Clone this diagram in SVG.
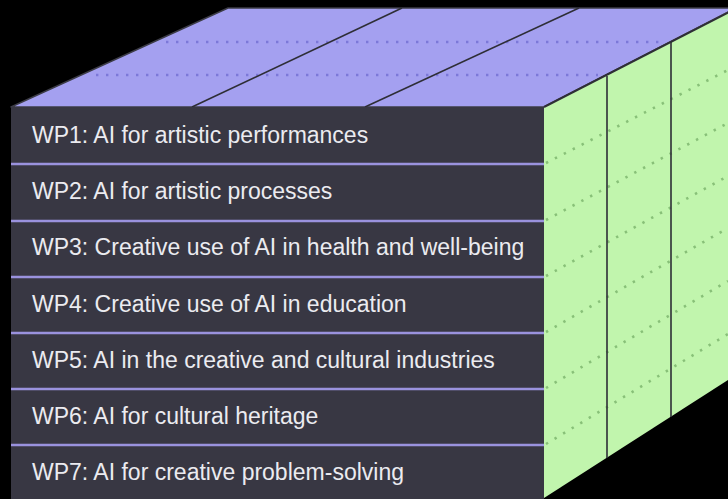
<svg xmlns="http://www.w3.org/2000/svg" width="728" height="499" viewBox="0 0 728 499">
<defs>
<style>
.bg{fill:#000}
.top{fill:#a4a0f0;stroke:#3c3c46;stroke-width:1.5;stroke-linejoin:round}
.side{fill:#c1f5ad}
.front{fill:#383743}
.edge{stroke:#2e2e36;stroke-width:2;fill:none}
.thin{stroke:#2e2e36;stroke-width:1.6;fill:none}
.tdot{stroke:#7c78d8;stroke-width:2.6;stroke-dasharray:2.4 7.6;fill:none}
.gdot{stroke:#88c078;stroke-width:2.6;stroke-dasharray:2.4 7.6;fill:none}
.sep{stroke:#9a92de;stroke-width:2.6}
.lbl{font-family:"Liberation Sans",Arial,sans-serif;font-size:23px;fill:#ebebf0}
</style>
</defs>
<rect class="bg" x="0" y="0" width="728" height="499"/>

<g id="top-face">
<polygon class="top" points="11,107 228,8 730,8 730,11 544,107"/>
<line class="tdot" x1="166" y1="42" x2="664" y2="42"/>
<line class="tdot" x1="96" y1="75" x2="598" y2="75"/>
<line class="thin" x1="192" y1="107" x2="402" y2="8"/>
<line class="thin" x1="365" y1="107" x2="579" y2="8"/>
</g>

<g id="right-face">
<polygon class="side" points="544,107 728,12 728,380 544,498"/>
<line class="gdot" x1="546" y1="163" x2="728" y2="70"/>
<line class="gdot" x1="546" y1="220" x2="728" y2="123"/>
<line class="gdot" x1="546" y1="276" x2="728" y2="176"/>
<line class="gdot" x1="546" y1="332" x2="728" y2="228"/>
<line class="gdot" x1="546" y1="388" x2="728" y2="281"/>
<line class="gdot" x1="546" y1="444" x2="728" y2="334"/>
<line class="thin" x1="607" y1="76" x2="607" y2="458"/>
<line class="thin" x1="671" y1="42" x2="671" y2="417"/>
<line class="edge" x1="544" y1="107" x2="729" y2="12"/>
</g>

<g id="front-face">
<rect class="front" x="11" y="107" width="533" height="392"/>
</g>

<g id="connectors">
<line class="sep" x1="11" y1="164" x2="544" y2="164"/>
<line class="sep" x1="11" y1="221" x2="544" y2="221"/>
<line class="sep" x1="11" y1="277" x2="544" y2="277"/>
<line class="sep" x1="11" y1="333" x2="544" y2="333"/>
<line class="sep" x1="11" y1="389" x2="544" y2="389"/>
<line class="sep" x1="11" y1="445" x2="544" y2="445"/>
</g>

<g id="wp1"><text class="lbl" x="32" y="143">WP1: AI for artistic performances</text></g>
<g id="wp2"><text class="lbl" x="32" y="199">WP2: AI for artistic processes</text></g>
<g id="wp3"><text class="lbl" x="32" y="255">WP3: Creative use of AI in health and well-being</text></g>
<g id="wp4"><text class="lbl" x="32" y="312">WP4: Creative use of AI in education</text></g>
<g id="wp5"><text class="lbl" x="32" y="368">WP5: AI in the creative and cultural industries</text></g>
<g id="wp6"><text class="lbl" x="32" y="424">WP6: AI for cultural heritage</text></g>
<g id="wp7"><text class="lbl" x="32" y="480">WP7: AI for creative problem-solving</text></g>
</svg>
